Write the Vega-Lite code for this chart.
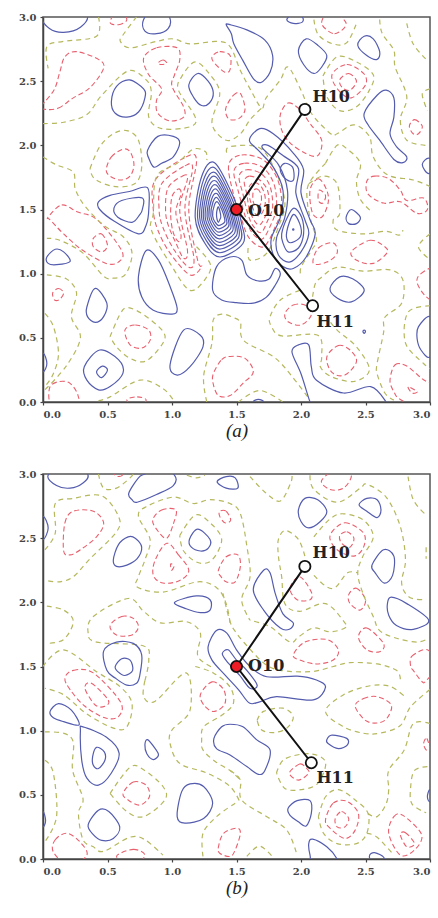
{"$schema":"https://vega.github.io/schema/vega-lite/v6.json","background":"white","padding":{"left":17,"top":11,"right":2,"bottom":2},"spacing":27,
"config":{"view":{"stroke":"#555","strokeWidth":1.5},"axis":{"grid":false,"domainColor":"#444","domainWidth":1.5,"tickColor":"#444","tickSize":3,"tickWidth":1.2,"labelFont":"DejaVu Serif","labelFontWeight":"bold","labelFontSize":10,"labelColor":"#444","labelPadding":4,"tickCount":7,"format":".1f"}},
"datasets":{
"a_b":[
{"c":1,"x":0,"y":3},{"c":1,"x":0.05,"y":2.91},{"c":1,"x":0.16,"y":2.88},{"c":1,"x":0.29,"y":2.92},{"c":1,"x":0.34,"y":3.02},{"c":1,"x":0.17,"y":3.12},
{"c":2,"x":0.78,"y":2.98},{"c":2,"x":0.79,"y":2.89},{"c":2,"x":0.88,"y":2.87},{"c":2,"x":0.97,"y":2.91},{"c":2,"x":0.98,"y":3},{"c":2,"x":0.88,"y":3.1},
{"c":3,"x":0.53,"y":2.34},{"c":3,"x":0.57,"y":2.46},{"c":3,"x":0.67,"y":2.51},{"c":3,"x":0.78,"y":2.44},{"c":3,"x":0.79,"y":2.37},{"c":3,"x":0.74,"y":2.26},{"c":3,"x":0.65,"y":2.22},{"c":3,"x":0.56,"y":2.25},
{"c":4,"x":1.13,"y":2.47},{"c":4,"x":1.2,"y":2.56},{"c":4,"x":1.28,"y":2.5},{"c":4,"x":1.32,"y":2.41},{"c":4,"x":1.29,"y":2.33},{"c":4,"x":1.23,"y":2.31},{"c":4,"x":1.17,"y":2.37},
{"c":5,"x":0.81,"y":1.96},{"c":5,"x":0.89,"y":2.07},{"c":5,"x":1.01,"y":2.07},{"c":5,"x":1.06,"y":2.02},{"c":5,"x":1.01,"y":1.91},{"c":5,"x":0.92,"y":1.86},{"c":5,"x":0.86,"y":1.83},{"c":5,"x":0.82,"y":1.9},
{"c":6,"x":0.44,"y":1.5},{"c":6,"x":0.55,"y":1.41},{"c":6,"x":0.74,"y":1.31},{"c":6,"x":0.8,"y":1.38},{"c":6,"x":0.82,"y":1.5},{"c":6,"x":0.81,"y":1.67},{"c":6,"x":0.67,"y":1.64},{"c":6,"x":0.52,"y":1.61},{"c":6,"x":0.43,"y":1.56},
{"c":7,"x":0.55,"y":1.51},{"c":7,"x":0.61,"y":1.57},{"c":7,"x":0.77,"y":1.59},{"c":7,"x":0.77,"y":1.5},{"c":7,"x":0.75,"y":1.46},{"c":7,"x":0.69,"y":1.4},{"c":7,"x":0.58,"y":1.44},
{"c":8,"x":1.33,"y":1.865},{"c":8,"x":1.475,"y":1.6},{"c":8,"x":1.54,"y":1.39},{"c":8,"x":1.55,"y":1.235},{"c":8,"x":1.372,"y":1.13},{"c":8,"x":1.256,"y":1.235},{"c":8,"x":1.18,"y":1.437},{"c":8,"x":1.23,"y":1.757},
{"c":9,"x":1.333,"y":1.824},{"c":9,"x":1.464,"y":1.586},{"c":9,"x":1.522,"y":1.397},{"c":9,"x":1.531,"y":1.257},{"c":9,"x":1.371,"y":1.163},{"c":9,"x":1.266,"y":1.257},{"c":9,"x":1.198,"y":1.439},{"c":9,"x":1.243,"y":1.727},
{"c":10,"x":1.336,"y":1.787},{"c":10,"x":1.453,"y":1.573},{"c":10,"x":1.506,"y":1.403},{"c":10,"x":1.514,"y":1.277},{"c":10,"x":1.37,"y":1.192},{"c":10,"x":1.276,"y":1.277},{"c":10,"x":1.214,"y":1.441},{"c":10,"x":1.255,"y":1.7},
{"c":11,"x":1.338,"y":1.755},{"c":11,"x":1.444,"y":1.561},{"c":11,"x":1.491,"y":1.408},{"c":11,"x":1.499,"y":1.295},{"c":11,"x":1.369,"y":1.218},{"c":11,"x":1.284,"y":1.295},{"c":11,"x":1.229,"y":1.442},{"c":11,"x":1.265,"y":1.676},
{"c":12,"x":1.34,"y":1.722},{"c":12,"x":1.435,"y":1.55},{"c":12,"x":1.477,"y":1.413},{"c":12,"x":1.484,"y":1.313},{"c":12,"x":1.368,"y":1.244},{"c":12,"x":1.292,"y":1.313},{"c":12,"x":1.243,"y":1.444},{"c":12,"x":1.275,"y":1.652},
{"c":13,"x":1.343,"y":1.69},{"c":13,"x":1.426,"y":1.539},{"c":13,"x":1.463,"y":1.419},{"c":13,"x":1.468,"y":1.33},{"c":13,"x":1.367,"y":1.271},{"c":13,"x":1.301,"y":1.33},{"c":13,"x":1.257,"y":1.446},{"c":13,"x":1.286,"y":1.628},
{"c":14,"x":1.345,"y":1.657},{"c":14,"x":1.416,"y":1.527},{"c":14,"x":1.448,"y":1.424},{"c":14,"x":1.453,"y":1.348},{"c":14,"x":1.366,"y":1.297},{"c":14,"x":1.309,"y":1.348},{"c":14,"x":1.272,"y":1.447},{"c":14,"x":1.296,"y":1.604},
{"c":15,"x":1.348,"y":1.624},{"c":15,"x":1.407,"y":1.516},{"c":15,"x":1.434,"y":1.43},{"c":15,"x":1.438,"y":1.366},{"c":15,"x":1.365,"y":1.323},{"c":15,"x":1.317,"y":1.366},{"c":15,"x":1.286,"y":1.449},{"c":15,"x":1.307,"y":1.58},
{"c":16,"x":1.35,"y":1.592},{"c":16,"x":1.398,"y":1.504},{"c":16,"x":1.419,"y":1.435},{"c":16,"x":1.423,"y":1.384},{"c":16,"x":1.364,"y":1.349},{"c":16,"x":1.326,"y":1.384},{"c":16,"x":1.301,"y":1.45},{"c":16,"x":1.317,"y":1.556},
{"c":17,"x":1.353,"y":1.559},{"c":17,"x":1.389,"y":1.493},{"c":17,"x":1.405,"y":1.44},{"c":17,"x":1.408,"y":1.402},{"c":17,"x":1.363,"y":1.375},{"c":17,"x":1.334,"y":1.402},{"c":17,"x":1.315,"y":1.452},{"c":17,"x":1.328,"y":1.532},
{"c":18,"x":1.36,"y":1.52},{"c":18,"x":1.375,"y":1.47},{"c":18,"x":1.378,"y":1.44},{"c":18,"x":1.37,"y":1.42},{"c":18,"x":1.36,"y":1.4},{"c":18,"x":1.35,"y":1.42},{"c":18,"x":1.345,"y":1.46},{"c":18,"x":1.35,"y":1.5},
{"c":20,"x":1.42,"y":2.94},{"c":20,"x":1.45,"y":2.94},{"c":20,"x":1.58,"y":2.9},{"c":20,"x":1.72,"y":2.82},{"c":20,"x":1.78,"y":2.7},{"c":20,"x":1.76,"y":2.57},{"c":20,"x":1.69,"y":2.49},{"c":20,"x":1.63,"y":2.52},{"c":20,"x":1.55,"y":2.66},{"c":20,"x":1.48,"y":2.79},{"c":20,"x":1.46,"y":2.87},
{"c":21,"x":1.98,"y":2.74},{"c":21,"x":2.04,"y":2.83},{"c":21,"x":2.13,"y":2.78},{"c":21,"x":2.2,"y":2.7},{"c":21,"x":2.16,"y":2.61},{"c":21,"x":2.1,"y":2.56},{"c":21,"x":2.02,"y":2.63},
{"c":22,"x":1.89,"y":2.98},{"c":22,"x":1.94,"y":2.95},{"c":22,"x":2.01,"y":2.96},{"c":22,"x":2.01,"y":3},{"c":22,"x":1.95,"y":3.03},
{"c":23,"x":2.44,"y":2.78},{"c":23,"x":2.49,"y":2.85},{"c":23,"x":2.56,"y":2.83},{"c":23,"x":2.61,"y":2.73},{"c":23,"x":2.59,"y":2.67},{"c":23,"x":2.51,"y":2.7},
{"c":24,"x":2.49,"y":2.25},{"c":24,"x":2.59,"y":2.39},{"c":24,"x":2.66,"y":2.43},{"c":24,"x":2.72,"y":2.37},{"c":24,"x":2.72,"y":2.22},{"c":24,"x":2.69,"y":2.09},{"c":24,"x":2.74,"y":1.99},{"c":24,"x":2.82,"y":1.91},{"c":24,"x":2.79,"y":1.865},{"c":24,"x":2.72,"y":1.89},{"c":24,"x":2.61,"y":2.04},{"c":24,"x":2.52,"y":2.16},
{"c":25,"x":2.94,"y":1.85},{"c":25,"x":2.99,"y":1.9},{"c":25,"x":3.05,"y":1.85},{"c":25,"x":2.99,"y":1.78},
{"c":26,"x":2.35,"y":1.44},{"c":26,"x":2.39,"y":1.5},{"c":26,"x":2.46,"y":1.44},{"c":26,"x":2.43,"y":1.39},{"c":26,"x":2.37,"y":1.39},
{"c":27,"x":1.6,"y":2.04},{"c":27,"x":1.68,"y":2.13},{"c":27,"x":1.785,"y":2.09},{"c":27,"x":1.94,"y":1.94},{"c":27,"x":2.02,"y":1.81},{"c":27,"x":2,"y":1.63},{"c":27,"x":2.07,"y":1.42},{"c":27,"x":2.11,"y":1.31},{"c":27,"x":2.04,"y":1.13},{"c":27,"x":1.94,"y":1.04},{"c":27,"x":1.86,"y":1.055},{"c":27,"x":1.785,"y":1.145},{"c":27,"x":1.77,"y":1.275},{"c":27,"x":1.84,"y":1.44},{"c":27,"x":1.86,"y":1.65},{"c":27,"x":1.785,"y":1.83},{"c":27,"x":1.67,"y":1.96},
{"c":28,"x":1.7,"y":1.98},{"c":28,"x":1.745,"y":2},{"c":28,"x":1.86,"y":1.92},{"c":28,"x":1.98,"y":1.82},{"c":28,"x":1.96,"y":1.63},{"c":28,"x":2.03,"y":1.42},{"c":28,"x":2.06,"y":1.31},{"c":28,"x":2,"y":1.17},{"c":28,"x":1.91,"y":1.09},{"c":28,"x":1.825,"y":1.145},{"c":28,"x":1.81,"y":1.275},{"c":28,"x":1.875,"y":1.44},{"c":28,"x":1.895,"y":1.65},{"c":28,"x":1.825,"y":1.85},
{"c":29,"x":1.85,"y":1.31},{"c":29,"x":1.89,"y":1.43},{"c":29,"x":1.945,"y":1.51},{"c":29,"x":2.005,"y":1.44},{"c":29,"x":2.02,"y":1.31},{"c":29,"x":1.98,"y":1.2},{"c":29,"x":1.9,"y":1.17},{"c":29,"x":1.86,"y":1.24},
{"c":30,"x":1.89,"y":1.33},{"c":30,"x":1.94,"y":1.46},{"c":30,"x":1.99,"y":1.39},{"c":30,"x":2,"y":1.3},{"c":30,"x":1.95,"y":1.25},{"c":30,"x":1.9,"y":1.25},
{"c":31,"x":1.94,"y":1.35},{"c":31,"x":1.945,"y":1.345},{"c":31,"x":1.94,"y":1.34},{"c":31,"x":1.935,"y":1.345},
{"c":32,"x":1.84,"y":1.82},{"c":32,"x":1.875,"y":1.86},{"c":32,"x":1.935,"y":1.83},{"c":32,"x":1.945,"y":1.74},{"c":32,"x":1.915,"y":1.72},{"c":32,"x":1.86,"y":1.76},
{"c":33,"x":1.346,"y":1.055},{"c":33,"x":1.315,"y":0.873},{"c":33,"x":1.385,"y":0.795},{"c":33,"x":1.5,"y":0.774},{"c":33,"x":1.63,"y":0.77},{"c":33,"x":1.73,"y":0.815},{"c":33,"x":1.8,"y":0.91},{"c":33,"x":1.84,"y":1},{"c":33,"x":1.8,"y":1.04},{"c":33,"x":1.75,"y":0.956},{"c":33,"x":1.66,"y":0.945},{"c":33,"x":1.58,"y":0.99},{"c":33,"x":1.54,"y":1.106},{"c":33,"x":1.45,"y":1.13},
{"c":34,"x":1.93,"y":0.39},{"c":34,"x":1.98,"y":0.445},{"c":34,"x":2.06,"y":0.445},{"c":34,"x":2.08,"y":0.275},{"c":34,"x":2.12,"y":0.17},{"c":34,"x":2.33,"y":0.07},{"c":34,"x":2.54,"y":0.12},{"c":34,"x":2.66,"y":0},{"c":34,"x":2.66,"y":-0.05},{"c":34,"x":2.1,"y":-0.05},{"c":34,"x":2.07,"y":0},{"c":34,"x":2,"y":0.22},
{"c":35,"x":1.63,"y":0},{"c":35,"x":1.67,"y":0.02},{"c":35,"x":1.71,"y":0},{"c":35,"x":1.67,"y":-0.05},
{"c":36,"x":2.48,"y":0.55},{"c":36,"x":2.49,"y":0.56},{"c":36,"x":2.5,"y":0.55},{"c":36,"x":2.49,"y":0.535},
{"c":37,"x":2.225,"y":0.885},{"c":37,"x":2.3,"y":0.975},{"c":37,"x":2.4,"y":0.96},{"c":37,"x":2.49,"y":0.87},{"c":37,"x":2.39,"y":0.78},{"c":37,"x":2.28,"y":0.81},
{"c":38,"x":3,"y":0.665},{"c":38,"x":2.91,"y":0.585},{"c":38,"x":2.9,"y":0.495},{"c":38,"x":2.93,"y":0.405},{"c":38,"x":3,"y":0.35},{"c":38,"x":3.05,"y":0.5},
{"c":39,"x":0.03,"y":1.13},{"c":39,"x":0.095,"y":1.19},{"c":39,"x":0.16,"y":1.17},{"c":39,"x":0.21,"y":1.095},{"c":39,"x":0.105,"y":1.07},{"c":39,"x":0.04,"y":1.08},
{"c":40,"x":0.74,"y":0.98},{"c":40,"x":0.8,"y":1.18},{"c":40,"x":0.895,"y":1.105},{"c":40,"x":0.985,"y":0.9},{"c":40,"x":1.04,"y":0.73},{"c":40,"x":1,"y":0.685},{"c":40,"x":0.855,"y":0.715},{"c":40,"x":0.765,"y":0.82},
{"c":41,"x":0.34,"y":0.74},{"c":41,"x":0.405,"y":0.885},{"c":41,"x":0.495,"y":0.77},{"c":41,"x":0.47,"y":0.665},{"c":41,"x":0.405,"y":0.62},{"c":41,"x":0.345,"y":0.665},
{"c":42,"x":0.985,"y":0.29},{"c":42,"x":1.09,"y":0.56},{"c":42,"x":1.22,"y":0.52},{"c":42,"x":1.24,"y":0.43},{"c":42,"x":1.14,"y":0.275},{"c":42,"x":1.04,"y":0.21},
{"c":43,"x":0.32,"y":0.275},{"c":43,"x":0.44,"y":0.405},{"c":43,"x":0.585,"y":0.33},{"c":43,"x":0.62,"y":0.225},{"c":43,"x":0.52,"y":0.12},{"c":43,"x":0.43,"y":0.095},{"c":43,"x":0.34,"y":0.17},
{"c":44,"x":0.415,"y":0.235},{"c":44,"x":0.46,"y":0.28},{"c":44,"x":0.5,"y":0.25},{"c":44,"x":0.455,"y":0.19},
{"c":45,"x":0,"y":0.38},{"c":45,"x":0.03,"y":0.3},{"c":45,"x":0,"y":0.235},{"c":45,"x":-0.05,"y":0.3}
],
"a_r":[
{"c":1,"x":0.02,"y":2.28},{"c":1,"x":0.12,"y":2.29},{"c":1,"x":0.235,"y":2.37},{"c":1,"x":0.365,"y":2.45},{"c":1,"x":0.47,"y":2.6},{"c":1,"x":0.43,"y":2.67},{"c":1,"x":0.26,"y":2.73},{"c":1,"x":0.17,"y":2.69},{"c":1,"x":0.13,"y":2.57},{"c":1,"x":0.09,"y":2.44},{"c":1,"x":0.015,"y":2.34},{"c":1,"x":-0.02,"y":2.3},
{"c":2,"x":0.52,"y":2.96},{"c":2,"x":0.585,"y":2.94},{"c":2,"x":0.65,"y":2.98},{"c":2,"x":0.585,"y":3.06},
{"c":3,"x":0.78,"y":2.68},{"c":3,"x":0.88,"y":2.76},{"c":3,"x":1.04,"y":2.76},{"c":3,"x":1.06,"y":2.665},{"c":3,"x":1.02,"y":2.55},{"c":3,"x":1,"y":2.46},{"c":3,"x":1.09,"y":2.3},{"c":3,"x":1.09,"y":2.22},{"c":3,"x":0.985,"y":2.19},{"c":3,"x":0.89,"y":2.25},{"c":3,"x":0.88,"y":2.35},{"c":3,"x":0.92,"y":2.44},{"c":3,"x":0.82,"y":2.55},
{"c":4,"x":0.89,"y":2.64},{"c":4,"x":0.93,"y":2.665},{"c":4,"x":0.96,"y":2.64},{"c":4,"x":0.92,"y":2.63},
{"c":5,"x":1.31,"y":2.69},{"c":5,"x":1.37,"y":2.73},{"c":5,"x":1.45,"y":2.7},{"c":5,"x":1.45,"y":2.59},{"c":5,"x":1.41,"y":2.57},{"c":5,"x":1.33,"y":2.64},
{"c":6,"x":1.42,"y":2.3},{"c":6,"x":1.475,"y":2.39},{"c":6,"x":1.53,"y":2.405},{"c":6,"x":1.566,"y":2.28},{"c":6,"x":1.52,"y":2.21},{"c":6,"x":1.45,"y":2.2},{"c":6,"x":1.42,"y":2.24},
{"c":7,"x":0.49,"y":1.81},{"c":7,"x":0.53,"y":1.91},{"c":7,"x":0.62,"y":1.97},{"c":7,"x":0.675,"y":1.95},{"c":7,"x":0.705,"y":1.85},{"c":7,"x":0.675,"y":1.76},{"c":7,"x":0.6,"y":1.73},{"c":7,"x":0.52,"y":1.76},
{"c":8,"x":0.04,"y":1.44},{"c":8,"x":0.145,"y":1.535},{"c":8,"x":0.27,"y":1.48},{"c":8,"x":0.42,"y":1.42},{"c":8,"x":0.61,"y":1.18},{"c":8,"x":0.585,"y":1.09},{"c":8,"x":0.49,"y":1.08},{"c":8,"x":0.31,"y":1.18},{"c":8,"x":0.16,"y":1.31},{"c":8,"x":0.055,"y":1.42},
{"c":9,"x":0.39,"y":1.275},{"c":9,"x":0.455,"y":1.31},{"c":9,"x":0.5,"y":1.22},{"c":9,"x":0.455,"y":1.17},{"c":9,"x":0.39,"y":1.21},
{"c":10,"x":0.075,"y":0.85},{"c":10,"x":0.12,"y":0.885},{"c":10,"x":0.16,"y":0.85},{"c":10,"x":0.13,"y":0.8},{"c":10,"x":0.09,"y":0.795},
{"c":11,"x":0.635,"y":0.56},{"c":11,"x":0.715,"y":0.6},{"c":11,"x":0.82,"y":0.56},{"c":11,"x":0.83,"y":0.48},{"c":11,"x":0.765,"y":0.42},{"c":11,"x":0.675,"y":0.445},
{"c":12,"x":0.055,"y":0.12},{"c":12,"x":0.13,"y":0.16},{"c":12,"x":0.21,"y":0.145},{"c":12,"x":0.27,"y":0.055},{"c":12,"x":0.27,"y":-0.05},{"c":12,"x":0.1,"y":-0.1},{"c":12,"x":0.05,"y":0},
{"c":13,"x":0.65,"y":0.015},{"c":13,"x":0.73,"y":0.04},{"c":13,"x":0.8,"y":0.015},{"c":13,"x":0.73,"y":-0.05},
{"c":14,"x":1.32,"y":0.22},{"c":14,"x":1.385,"y":0.33},{"c":14,"x":1.45,"y":0.355},{"c":14,"x":1.566,"y":0.34},{"c":14,"x":1.63,"y":0.235},{"c":14,"x":1.55,"y":0.145},{"c":14,"x":1.45,"y":0.05},{"c":14,"x":1.36,"y":0.05},{"c":14,"x":1.32,"y":0.14},
{"c":15,"x":1.84,"y":2.24},{"c":15,"x":1.9,"y":2.33},{"c":15,"x":1.99,"y":2.28},{"c":15,"x":2.07,"y":2.17},{"c":15,"x":2.16,"y":2.04},{"c":15,"x":2.13,"y":1.92},{"c":15,"x":2.03,"y":1.94},{"c":15,"x":1.915,"y":2.02},{"c":15,"x":1.85,"y":2.12},
{"c":16,"x":2.16,"y":2.95},{"c":16,"x":2.26,"y":2.87},{"c":16,"x":2.35,"y":2.95},{"c":16,"x":2.23,"y":3.05},
{"c":17,"x":2.24,"y":2.55},{"c":17,"x":2.355,"y":2.63},{"c":17,"x":2.485,"y":2.56},{"c":17,"x":2.5,"y":2.47},{"c":17,"x":2.39,"y":2.37},{"c":17,"x":2.29,"y":2.43},
{"c":18,"x":2.3,"y":2.51},{"c":18,"x":2.37,"y":2.56},{"c":18,"x":2.43,"y":2.5},{"c":18,"x":2.38,"y":2.43},{"c":18,"x":2.32,"y":2.45},
{"c":19,"x":2.84,"y":2.15},{"c":19,"x":2.88,"y":2.2},{"c":19,"x":2.94,"y":2.15},{"c":19,"x":2.91,"y":2.09},{"c":19,"x":2.87,"y":2.09},
{"c":20,"x":2.51,"y":1.72},{"c":20,"x":2.57,"y":1.76},{"c":20,"x":2.68,"y":1.74},{"c":20,"x":2.77,"y":1.65},{"c":20,"x":2.82,"y":1.57},{"c":20,"x":2.95,"y":1.59},{"c":20,"x":2.98,"y":1.5},{"c":20,"x":2.9,"y":1.47},{"c":20,"x":2.77,"y":1.56},{"c":20,"x":2.64,"y":1.55},{"c":20,"x":2.52,"y":1.62},
{"c":21,"x":2.07,"y":1.65},{"c":21,"x":2.135,"y":1.74},{"c":21,"x":2.2,"y":1.65},{"c":21,"x":2.21,"y":1.55},{"c":21,"x":2.16,"y":1.44},{"c":21,"x":2.09,"y":1.47},
{"c":22,"x":2.14,"y":1.65},{"c":22,"x":2.19,"y":1.61},{"c":22,"x":2.17,"y":1.55},{"c":22,"x":2.135,"y":1.57},
{"c":23,"x":2.095,"y":1.08},{"c":23,"x":2.135,"y":1.2},{"c":23,"x":2.25,"y":1.24},{"c":23,"x":2.28,"y":1.16},{"c":23,"x":2.2,"y":1.09},
{"c":24,"x":2.39,"y":1.17},{"c":24,"x":2.535,"y":1.26},{"c":24,"x":2.65,"y":1.21},{"c":24,"x":2.665,"y":1.16},{"c":24,"x":2.56,"y":1.08},{"c":24,"x":2.44,"y":1.1},
{"c":25,"x":2.9,"y":0.93},{"c":25,"x":2.93,"y":1},{"c":25,"x":3.05,"y":1.04},{"c":25,"x":3.05,"y":0.8},{"c":25,"x":2.97,"y":0.82},
{"c":26,"x":1.875,"y":0.69},{"c":26,"x":1.94,"y":0.755},{"c":26,"x":2.03,"y":0.755},{"c":26,"x":2.08,"y":0.68},{"c":26,"x":2,"y":0.6},{"c":26,"x":1.9,"y":0.625},
{"c":27,"x":2.2,"y":0.35},{"c":27,"x":2.29,"y":0.44},{"c":27,"x":2.38,"y":0.405},{"c":27,"x":2.43,"y":0.315},{"c":27,"x":2.34,"y":0.21},{"c":27,"x":2.24,"y":0.23},
{"c":28,"x":2.69,"y":0.17},{"c":28,"x":2.73,"y":0.29},{"c":28,"x":2.82,"y":0.28},{"c":28,"x":2.94,"y":0.18},{"c":28,"x":3.05,"y":0.1},{"c":28,"x":2.95,"y":-0.05},{"c":28,"x":2.77,"y":0.02},{"c":28,"x":2.72,"y":0.08},
{"c":29,"x":2.83,"y":0.12},{"c":29,"x":2.9,"y":0.08},{"c":29,"x":2.86,"y":0.07},
{"c":30,"x":0.87,"y":1.73},{"c":30,"x":1.11,"y":1.91},{"c":30,"x":1.19,"y":1.88},{"c":30,"x":1.13,"y":1.5},{"c":30,"x":1.2,"y":1.1},{"c":30,"x":1.23,"y":1.055},{"c":30,"x":1.14,"y":0.99},{"c":30,"x":0.985,"y":1.16},{"c":30,"x":0.89,"y":1.34},{"c":30,"x":0.855,"y":1.5},
{"c":31,"x":0.92,"y":1.7},{"c":31,"x":1.1,"y":1.84},{"c":31,"x":1.16,"y":1.82},{"c":31,"x":1.1,"y":1.5},{"c":31,"x":1.17,"y":1.12},{"c":31,"x":1.13,"y":1.05},{"c":31,"x":1.02,"y":1.18},{"c":31,"x":0.93,"y":1.36},{"c":31,"x":0.9,"y":1.5},
{"c":32,"x":0.97,"y":1.67},{"c":32,"x":1.08,"y":1.76},{"c":32,"x":1.12,"y":1.74},{"c":32,"x":1.06,"y":1.5},{"c":32,"x":1.12,"y":1.18},{"c":32,"x":1.09,"y":1.12},{"c":32,"x":1.03,"y":1.24},{"c":32,"x":0.97,"y":1.38},{"c":32,"x":0.95,"y":1.5},
{"c":33,"x":1,"y":1.6},{"c":33,"x":1.05,"y":1.66},{"c":33,"x":1.07,"y":1.62},{"c":33,"x":1.03,"y":1.48},{"c":33,"x":1.07,"y":1.3},{"c":33,"x":1.05,"y":1.25},{"c":33,"x":1.01,"y":1.32},{"c":33,"x":0.99,"y":1.45},
{"c":34,"x":1.44,"y":1.85},{"c":34,"x":1.54,"y":1.925},{"c":34,"x":1.71,"y":1.885},{"c":34,"x":1.82,"y":1.73},{"c":34,"x":1.85,"y":1.52},{"c":34,"x":1.8,"y":1.365},{"c":34,"x":1.71,"y":1.21},{"c":34,"x":1.6,"y":1.275},{"c":34,"x":1.54,"y":1.42},{"c":34,"x":1.475,"y":1.625},
{"c":35,"x":1.48,"y":1.8},{"c":35,"x":1.56,"y":1.86},{"c":35,"x":1.7,"y":1.83},{"c":35,"x":1.79,"y":1.7},{"c":35,"x":1.81,"y":1.52},{"c":35,"x":1.77,"y":1.39},{"c":35,"x":1.7,"y":1.27},{"c":35,"x":1.62,"y":1.32},{"c":35,"x":1.57,"y":1.44},{"c":35,"x":1.52,"y":1.62},
{"c":36,"x":1.52,"y":1.76},{"c":36,"x":1.58,"y":1.81},{"c":36,"x":1.69,"y":1.78},{"c":36,"x":1.76,"y":1.68},{"c":36,"x":1.78,"y":1.52},{"c":36,"x":1.74,"y":1.41},{"c":36,"x":1.69,"y":1.32},{"c":36,"x":1.63,"y":1.37},{"c":36,"x":1.59,"y":1.46},{"c":36,"x":1.55,"y":1.62},
{"c":37,"x":1.56,"y":1.72},{"c":37,"x":1.6,"y":1.76},{"c":37,"x":1.68,"y":1.73},{"c":37,"x":1.74,"y":1.65},{"c":37,"x":1.75,"y":1.53},{"c":37,"x":1.72,"y":1.44},{"c":37,"x":1.68,"y":1.38},{"c":37,"x":1.64,"y":1.41},{"c":37,"x":1.6,"y":1.5},{"c":37,"x":1.58,"y":1.62},
{"c":38,"x":1.6,"y":1.68},{"c":38,"x":1.64,"y":1.71},{"c":38,"x":1.69,"y":1.68},{"c":38,"x":1.72,"y":1.61},{"c":38,"x":1.72,"y":1.53},{"c":38,"x":1.69,"y":1.46},{"c":38,"x":1.65,"y":1.46},{"c":38,"x":1.62,"y":1.53},{"c":38,"x":1.6,"y":1.6},
{"c":39,"x":1.63,"y":1.64},{"c":39,"x":1.66,"y":1.66},{"c":39,"x":1.69,"y":1.62},{"c":39,"x":1.69,"y":1.55},{"c":39,"x":1.66,"y":1.52},{"c":39,"x":1.63,"y":1.56}
],
"a_g":[
{"c":1,"x":0.43,"y":3},{"c":1,"x":0.415,"y":2.85},{"c":1,"x":0.16,"y":2.81},{"c":1,"x":0.03,"y":2.77},{"c":1,"x":0.04,"y":2.6},
{"c":2,"x":0,"y":2.17},{"c":2,"x":0.16,"y":2.18},{"c":2,"x":0.34,"y":2.24},{"c":2,"x":0.455,"y":2.39},{"c":2,"x":0.66,"y":2.58},{"c":2,"x":0.8,"y":2.51},{"c":2,"x":0.84,"y":2.41},{"c":2,"x":0.82,"y":2.22},{"c":2,"x":0.92,"y":2.13},{"c":2,"x":1.14,"y":2.145},{"c":2,"x":1.18,"y":2.22},{"c":2,"x":1.05,"y":2.43},{"c":2,"x":1.075,"y":2.535},{"c":2,"x":1.18,"y":2.65},{"c":2,"x":1.295,"y":2.55},{"c":2,"x":1.37,"y":2.405},{"c":2,"x":1.31,"y":2.17},{"c":2,"x":1.42,"y":2.04},{"c":2,"x":1.53,"y":2.09},{"c":2,"x":1.605,"y":2.2},{"c":2,"x":1.695,"y":2.29},
{"c":3,"x":0.725,"y":3},{"c":3,"x":0.62,"y":2.86},{"c":3,"x":0.6,"y":2.81},{"c":3,"x":0.675,"y":2.76},{"c":3,"x":0.88,"y":2.81},{"c":3,"x":1.01,"y":2.83},{"c":3,"x":1.14,"y":2.79},{"c":3,"x":1.35,"y":2.81},{"c":3,"x":1.45,"y":2.77},{"c":3,"x":1.527,"y":2.59},{"c":3,"x":1.605,"y":2.44},{"c":3,"x":1.695,"y":2.29},{"c":3,"x":1.73,"y":2.37},{"c":3,"x":1.84,"y":2.51},{"c":3,"x":1.9,"y":2.61},{"c":3,"x":2,"y":2.43},{"c":3,"x":2.08,"y":2.25},{"c":3,"x":2.23,"y":2.09},{"c":3,"x":2.28,"y":2.09},{"c":3,"x":2.41,"y":2.16},{"c":3,"x":2.53,"y":2.07},{"c":3,"x":2.56,"y":1.91},{"c":3,"x":2.67,"y":1.77},{"c":3,"x":2.87,"y":1.73},{"c":3,"x":3,"y":1.68},
{"c":4,"x":2.1,"y":2.98},{"c":4,"x":2.135,"y":2.86},{"c":4,"x":2.25,"y":2.79},{"c":4,"x":2.355,"y":2.8},{"c":4,"x":2.43,"y":2.95},
{"c":5,"x":2.17,"y":2.54},{"c":5,"x":2.28,"y":2.69},{"c":5,"x":2.43,"y":2.65},{"c":5,"x":2.56,"y":2.55},{"c":5,"x":2.53,"y":2.43},{"c":5,"x":2.43,"y":2.3},{"c":5,"x":2.3,"y":2.27},{"c":5,"x":2.2,"y":2.38},{"c":5,"x":2.17,"y":2.54},
{"c":6,"x":2.61,"y":2.98},{"c":6,"x":2.63,"y":2.87},{"c":6,"x":2.72,"y":2.74},{"c":6,"x":2.73,"y":2.61},{"c":6,"x":2.82,"y":2.38},{"c":6,"x":2.77,"y":2.2},{"c":6,"x":2.82,"y":2.04},{"c":6,"x":2.97,"y":2},
{"c":7,"x":2.82,"y":2.95},{"c":7,"x":2.87,"y":2.79},{"c":7,"x":2.98,"y":2.66},
{"c":8,"x":3,"y":2.44},{"c":8,"x":2.94,"y":2.4},{"c":8,"x":2.98,"y":2.27},
{"c":9,"x":2.19,"y":1.86},{"c":9,"x":2.28,"y":2},{"c":9,"x":2.36,"y":1.97},{"c":9,"x":2.46,"y":1.86},{"c":9,"x":2.43,"y":1.72},{"c":9,"x":2.46,"y":1.58},{"c":9,"x":2.55,"y":1.48},
{"c":10,"x":2.19,"y":1.86},{"c":10,"x":2.06,"y":1.7},{"c":10,"x":2.05,"y":1.55},{"c":10,"x":2.08,"y":1.4},{"c":10,"x":2.12,"y":1.26},{"c":10,"x":2.08,"y":1.18},{"c":10,"x":2,"y":1.05},{"c":10,"x":2,"y":0.98},
{"c":12,"x":2.06,"y":1.7},{"c":12,"x":2.17,"y":1.76},{"c":12,"x":2.28,"y":1.7},{"c":12,"x":2.3,"y":1.47},{"c":12,"x":2.25,"y":1.42},{"c":12,"x":2.28,"y":1.34},{"c":12,"x":2.48,"y":1.31},{"c":12,"x":2.66,"y":1.33},{"c":12,"x":2.76,"y":1.3},{"c":12,"x":2.79,"y":1.34},
{"c":13,"x":2.09,"y":0.82},{"c":13,"x":2.11,"y":0.92},{"c":13,"x":2.15,"y":0.965},{"c":13,"x":2.28,"y":1.05},{"c":13,"x":2.48,"y":1.02},{"c":13,"x":2.69,"y":1.03},{"c":13,"x":2.79,"y":0.95},{"c":13,"x":2.78,"y":0.77},{"c":13,"x":2.65,"y":0.66},{"c":13,"x":2.64,"y":0.54},{"c":13,"x":2.59,"y":0.3},{"c":13,"x":2.59,"y":0.22},{"c":13,"x":2.65,"y":0.07},{"c":13,"x":2.72,"y":0.015},
{"c":14,"x":3,"y":0.75},{"c":14,"x":2.83,"y":0.7},{"c":14,"x":2.81,"y":0.46},{"c":14,"x":2.95,"y":0.3},{"c":14,"x":3,"y":0.26},
{"c":15,"x":3,"y":1.31},{"c":15,"x":2.91,"y":1.21},{"c":15,"x":3,"y":1.11},
{"c":16,"x":1.99,"y":0.87},{"c":16,"x":1.84,"y":0.795},{"c":16,"x":1.76,"y":0.665},{"c":16,"x":1.77,"y":0.59},{"c":16,"x":1.85,"y":0.515},{"c":16,"x":2.13,"y":0.52},{"c":16,"x":2.16,"y":0.35},{"c":16,"x":2.15,"y":0.275},{"c":16,"x":2.23,"y":0.2},{"c":16,"x":2.41,"y":0.16},{"c":16,"x":2.53,"y":0.25},{"c":16,"x":2.43,"y":0.43},{"c":16,"x":2.28,"y":0.56},{"c":16,"x":2.2,"y":0.66},
{"c":18,"x":0.52,"y":0.51},{"c":18,"x":0.6,"y":0.69},{"c":18,"x":0.66,"y":0.735},{"c":18,"x":0.78,"y":0.68},{"c":18,"x":0.93,"y":0.55},{"c":18,"x":0.93,"y":0.46},{"c":18,"x":0.8,"y":0.32},{"c":18,"x":0.675,"y":0.34},{"c":18,"x":0.57,"y":0.43},{"c":18,"x":0.52,"y":0.51},
{"c":19,"x":0,"y":1.91},{"c":19,"x":0.1,"y":1.85},{"c":19,"x":0.235,"y":1.79},{"c":19,"x":0.25,"y":1.66},{"c":19,"x":0.33,"y":1.52},{"c":19,"x":0.48,"y":1.37},{"c":19,"x":0.62,"y":1.29},{"c":19,"x":0.69,"y":1.16},{"c":19,"x":0.64,"y":0.995},{"c":19,"x":0.545,"y":0.965},{"c":19,"x":0.47,"y":0.98},{"c":19,"x":0.31,"y":1.16},{"c":19,"x":0.13,"y":1.26},{"c":19,"x":0.03,"y":1.275},
{"c":20,"x":0.365,"y":1.82},{"c":20,"x":0.44,"y":1.99},{"c":20,"x":0.545,"y":2.09},{"c":20,"x":0.65,"y":2.115},{"c":20,"x":0.74,"y":2.04},{"c":20,"x":0.765,"y":1.83},{"c":20,"x":0.71,"y":1.7},{"c":20,"x":0.545,"y":1.68},{"c":20,"x":0.4,"y":1.74},{"c":20,"x":0.365,"y":1.82},
{"c":21,"x":0.03,"y":0.99},{"c":21,"x":0.18,"y":0.96},{"c":21,"x":0.26,"y":0.85},{"c":21,"x":0.22,"y":0.665},{"c":21,"x":0.29,"y":0.5},{"c":21,"x":0.18,"y":0.28},{"c":21,"x":0.015,"y":0.095},
{"c":22,"x":0.015,"y":0.69},{"c":22,"x":0.08,"y":0.59},{"c":22,"x":0.12,"y":0.38},{"c":22,"x":0.08,"y":0.22},{"c":22,"x":0.015,"y":0.12},
{"c":23,"x":0.43,"y":0.01},{"c":23,"x":0.52,"y":0.04},{"c":23,"x":0.75,"y":0.17},{"c":23,"x":0.93,"y":0.105},{"c":23,"x":1.02,"y":0},
{"c":24,"x":1.19,"y":1.21},{"c":24,"x":1.295,"y":1.08},{"c":24,"x":1.27,"y":0.975},{"c":24,"x":1.14,"y":0.87},{"c":24,"x":0.985,"y":1.08},{"c":24,"x":0.84,"y":1.34},{"c":24,"x":0.855,"y":1.47},{"c":24,"x":0.88,"y":1.755},{"c":24,"x":1.04,"y":1.86},{"c":24,"x":1.165,"y":1.97},{"c":24,"x":1.26,"y":1.95},{"c":24,"x":1.27,"y":1.885},
{"c":25,"x":1.59,"y":1.2},{"c":25,"x":1.605,"y":1.105},{"c":25,"x":1.735,"y":1.16},{"c":25,"x":1.825,"y":1.365},{"c":25,"x":1.875,"y":1.55},{"c":25,"x":1.81,"y":1.78},{"c":25,"x":1.68,"y":1.98},{"c":25,"x":1.45,"y":1.99},{"c":25,"x":1.425,"y":1.94},
{"c":26,"x":1.27,"y":0},{"c":26,"x":1.245,"y":0.2},{"c":26,"x":1.31,"y":0.46},{"c":26,"x":1.32,"y":0.64},{"c":26,"x":1.385,"y":0.685},{"c":26,"x":1.47,"y":0.66},{"c":26,"x":1.53,"y":0.62},{"c":26,"x":1.555,"y":0.48},{"c":26,"x":1.79,"y":0.35},{"c":26,"x":1.93,"y":0.2},{"c":26,"x":2.07,"y":0.015},
{"c":27,"x":1.515,"y":0},{"c":27,"x":1.68,"y":0.09},{"c":27,"x":1.86,"y":0}
],
"b_b":[
{"c":1,"x":0.04,"y":2.99},{"c":1,"x":0.105,"y":2.91},{"c":1,"x":0.21,"y":2.89},{"c":1,"x":0.31,"y":2.93},{"c":1,"x":0.345,"y":3},{"c":1,"x":0.2,"y":3.1},
{"c":2,"x":0.665,"y":2.85},{"c":2,"x":0.74,"y":2.97},{"c":2,"x":0.79,"y":3},{"c":2,"x":0.9,"y":3.05},{"c":2,"x":1.02,"y":2.99},{"c":2,"x":1.01,"y":2.91},{"c":2,"x":0.88,"y":2.84},{"c":2,"x":0.73,"y":2.78},{"c":2,"x":0.69,"y":2.8},
{"c":3,"x":1.35,"y":2.94},{"c":3,"x":1.42,"y":2.98},{"c":3,"x":1.49,"y":2.97},{"c":3,"x":1.51,"y":2.89},{"c":3,"x":1.42,"y":2.89},
{"c":4,"x":0,"y":2.67},{"c":4,"x":0.04,"y":2.58},{"c":4,"x":0,"y":2.49},{"c":4,"x":-0.05,"y":2.58},
{"c":5,"x":0.545,"y":2.33},{"c":5,"x":0.585,"y":2.45},{"c":5,"x":0.66,"y":2.51},{"c":5,"x":0.715,"y":2.5},{"c":5,"x":0.765,"y":2.43},{"c":5,"x":0.73,"y":2.34},{"c":5,"x":0.65,"y":2.29},{"c":5,"x":0.57,"y":2.28},
{"c":6,"x":1.135,"y":2.49},{"c":6,"x":1.2,"y":2.57},{"c":6,"x":1.295,"y":2.49},{"c":6,"x":1.28,"y":2.42},{"c":6,"x":1.22,"y":2.4},{"c":6,"x":1.15,"y":2.43},
{"c":7,"x":1.02,"y":2},{"c":7,"x":1.19,"y":2.05},{"c":7,"x":1.295,"y":2.02},{"c":7,"x":1.295,"y":1.94},{"c":7,"x":1.22,"y":1.92},{"c":7,"x":1.11,"y":1.95},
{"c":8,"x":0.47,"y":1.62},{"c":8,"x":0.57,"y":1.69},{"c":8,"x":0.7,"y":1.68},{"c":8,"x":0.765,"y":1.59},{"c":8,"x":0.75,"y":1.43},{"c":8,"x":0.725,"y":1.37},{"c":8,"x":0.65,"y":1.355},{"c":8,"x":0.56,"y":1.41},{"c":8,"x":0.495,"y":1.47},
{"c":9,"x":0.56,"y":1.5},{"c":9,"x":0.61,"y":1.56},{"c":9,"x":0.675,"y":1.55},{"c":9,"x":0.695,"y":1.47},{"c":9,"x":0.635,"y":1.43},{"c":9,"x":0.58,"y":1.46},
{"c":10,"x":1.98,"y":2.72},{"c":10,"x":2.03,"y":2.81},{"c":10,"x":2.13,"y":2.8},{"c":10,"x":2.2,"y":2.71},{"c":10,"x":2.15,"y":2.63},{"c":10,"x":2.06,"y":2.58},{"c":10,"x":2,"y":2.63},
{"c":11,"x":2.45,"y":2.76},{"c":11,"x":2.51,"y":2.81},{"c":11,"x":2.59,"y":2.8},{"c":11,"x":2.62,"y":2.72},{"c":11,"x":2.59,"y":2.66},{"c":11,"x":2.51,"y":2.71},
{"c":12,"x":2.55,"y":2.29},{"c":12,"x":2.64,"y":2.41},{"c":12,"x":2.72,"y":2.36},{"c":12,"x":2.71,"y":2.21},{"c":12,"x":2.645,"y":2.15},{"c":12,"x":2.575,"y":2.23},
{"c":13,"x":2.67,"y":1.99},{"c":13,"x":2.7,"y":2.04},{"c":13,"x":2.82,"y":1.99},{"c":13,"x":2.99,"y":1.86},{"c":13,"x":2.87,"y":1.79},{"c":13,"x":2.74,"y":1.82},{"c":13,"x":2.68,"y":1.9},
{"c":14,"x":1.63,"y":2.1},{"c":14,"x":1.71,"y":2.25},{"c":14,"x":1.76,"y":2.23},{"c":14,"x":1.8,"y":2.07},{"c":14,"x":1.86,"y":1.91},{"c":14,"x":1.94,"y":1.84},{"c":14,"x":1.91,"y":1.79},{"c":14,"x":1.84,"y":1.8},{"c":14,"x":1.71,"y":1.94},
{"c":15,"x":1.28,"y":1.655},{"c":15,"x":1.345,"y":1.78},{"c":15,"x":1.425,"y":1.76},{"c":15,"x":1.5,"y":1.63},{"c":15,"x":1.605,"y":1.5},{"c":15,"x":1.735,"y":1.42},{"c":15,"x":1.97,"y":1.425},{"c":15,"x":2.12,"y":1.395},{"c":15,"x":2.19,"y":1.34},{"c":15,"x":2.095,"y":1.24},{"c":15,"x":1.81,"y":1.265},{"c":15,"x":1.68,"y":1.225},{"c":15,"x":1.6,"y":1.215},{"c":15,"x":1.515,"y":1.32},{"c":15,"x":1.41,"y":1.435},{"c":15,"x":1.31,"y":1.55},
{"c":16,"x":1.39,"y":1.6},{"c":16,"x":1.435,"y":1.63},{"c":16,"x":1.5,"y":1.55},{"c":16,"x":1.58,"y":1.47},{"c":16,"x":1.66,"y":1.355},{"c":16,"x":1.605,"y":1.33},{"c":16,"x":1.525,"y":1.43},{"c":16,"x":1.425,"y":1.54},
{"c":17,"x":1.385,"y":1.03},{"c":17,"x":1.45,"y":1.05},{"c":17,"x":1.55,"y":1.03},{"c":17,"x":1.655,"y":0.93},{"c":17,"x":1.76,"y":0.85},{"c":17,"x":1.72,"y":0.69},{"c":17,"x":1.67,"y":0.66},{"c":17,"x":1.58,"y":0.72},{"c":17,"x":1.45,"y":0.81},{"c":17,"x":1.345,"y":0.86},{"c":17,"x":1.325,"y":0.94},
{"c":18,"x":0.055,"y":1.15},{"c":18,"x":0.12,"y":1.21},{"c":18,"x":0.22,"y":1.16},{"c":18,"x":0.28,"y":1.045},{"c":18,"x":0.16,"y":1.07},{"c":18,"x":0.08,"y":1.1},
{"c":19,"x":0.29,"y":1},{"c":19,"x":0.31,"y":1.03},{"c":19,"x":0.49,"y":0.95},{"c":19,"x":0.59,"y":0.825},{"c":19,"x":0.53,"y":0.67},{"c":19,"x":0.43,"y":0.575},{"c":19,"x":0.34,"y":0.63},{"c":19,"x":0.3,"y":0.77},
{"c":20,"x":0.385,"y":0.8},{"c":20,"x":0.415,"y":0.87},{"c":20,"x":0.475,"y":0.835},{"c":20,"x":0.48,"y":0.77},{"c":20,"x":0.43,"y":0.705},{"c":20,"x":0.39,"y":0.73},
{"c":21,"x":0.79,"y":0.89},{"c":21,"x":0.81,"y":0.93},{"c":21,"x":0.87,"y":0.86},{"c":21,"x":0.895,"y":0.81},{"c":21,"x":0.855,"y":0.775},{"c":21,"x":0.805,"y":0.82},
{"c":22,"x":1.04,"y":0.33},{"c":22,"x":1.075,"y":0.525},{"c":22,"x":1.14,"y":0.585},{"c":22,"x":1.245,"y":0.565},{"c":22,"x":1.315,"y":0.435},{"c":22,"x":1.245,"y":0.315},{"c":22,"x":1.1,"y":0.28},
{"c":23,"x":0.35,"y":0.265},{"c":23,"x":0.43,"y":0.38},{"c":23,"x":0.51,"y":0.37},{"c":23,"x":0.595,"y":0.25},{"c":23,"x":0.545,"y":0.16},{"c":23,"x":0.455,"y":0.145},{"c":23,"x":0.39,"y":0.19},
{"c":24,"x":0,"y":0.37},{"c":24,"x":0.02,"y":0.3},{"c":24,"x":0,"y":0.25},{"c":24,"x":-0.03,"y":0.31},
{"c":25,"x":1.9,"y":0.395},{"c":25,"x":1.97,"y":0.455},{"c":25,"x":2.07,"y":0.455},{"c":25,"x":2.08,"y":0.355},{"c":25,"x":2.04,"y":0.257},{"c":25,"x":1.98,"y":0.29},{"c":25,"x":1.915,"y":0.34},
{"c":26,"x":2.2,"y":0.93},{"c":26,"x":2.24,"y":0.965},{"c":26,"x":2.355,"y":0.94},{"c":26,"x":2.36,"y":0.89},{"c":26,"x":2.29,"y":0.86},{"c":26,"x":2.21,"y":0.9},
{"c":27,"x":2.06,"y":0.12},{"c":27,"x":2.09,"y":0.155},{"c":27,"x":2.2,"y":0.095},{"c":27,"x":2.28,"y":0},{"c":27,"x":2.28,"y":-0.05},{"c":27,"x":2.1,"y":-0.05},{"c":27,"x":2.07,"y":0.03},
{"c":28,"x":2.53,"y":0.02},{"c":28,"x":2.57,"y":0.05},{"c":28,"x":2.645,"y":0.005},{"c":28,"x":2.57,"y":-0.05},
{"c":29,"x":3,"y":0.54},{"c":29,"x":2.98,"y":0.485},{"c":29,"x":3,"y":0.445},{"c":29,"x":3.05,"y":0.49}
],
"b_r":[
{"c":1,"x":0.55,"y":3},{"c":1,"x":0.585,"y":2.98},{"c":1,"x":0.62,"y":3},{"c":1,"x":0.585,"y":3.04},
{"c":2,"x":0.16,"y":2.4},{"c":2,"x":0.17,"y":2.62},{"c":2,"x":0.235,"y":2.71},{"c":2,"x":0.39,"y":2.71},{"c":2,"x":0.47,"y":2.62},{"c":2,"x":0.415,"y":2.51},{"c":2,"x":0.29,"y":2.41},{"c":2,"x":0.21,"y":2.37},
{"c":3,"x":0.85,"y":2.64},{"c":3,"x":0.92,"y":2.72},{"c":3,"x":1.03,"y":2.72},{"c":3,"x":1.01,"y":2.61},{"c":3,"x":0.96,"y":2.5},{"c":3,"x":0.895,"y":2.55},
{"c":4,"x":0.96,"y":2.46},{"c":4,"x":1.05,"y":2.37},{"c":4,"x":1.13,"y":2.25},{"c":4,"x":1.06,"y":2.17},{"c":4,"x":0.93,"y":2.15},{"c":4,"x":0.855,"y":2.21},{"c":4,"x":0.87,"y":2.33},
{"c":5,"x":0.99,"y":2.3},{"c":5,"x":1.015,"y":2.28},{"c":5,"x":0.995,"y":2.25},
{"c":6,"x":1.37,"y":2.71},{"c":6,"x":1.42,"y":2.71},{"c":6,"x":1.455,"y":2.64},{"c":6,"x":1.41,"y":2.62},{"c":6,"x":1.37,"y":2.67},
{"c":7,"x":1.36,"y":2.25},{"c":7,"x":1.42,"y":2.355},{"c":7,"x":1.51,"y":2.37},{"c":7,"x":1.53,"y":2.28},{"c":7,"x":1.49,"y":2.16},{"c":7,"x":1.42,"y":2.16},{"c":7,"x":1.38,"y":2.2},
{"c":8,"x":0.52,"y":1.82},{"c":8,"x":0.61,"y":1.89},{"c":8,"x":0.7,"y":1.875},{"c":8,"x":0.74,"y":1.81},{"c":8,"x":0.69,"y":1.745},{"c":8,"x":0.57,"y":1.745},
{"c":9,"x":0.17,"y":1.41},{"c":9,"x":0.235,"y":1.47},{"c":9,"x":0.39,"y":1.45},{"c":9,"x":0.6,"y":1.225},{"c":9,"x":0.585,"y":1.11},{"c":9,"x":0.48,"y":1.1},{"c":9,"x":0.325,"y":1.19},{"c":9,"x":0.21,"y":1.32},
{"c":10,"x":0.325,"y":1.33},{"c":10,"x":0.375,"y":1.37},{"c":10,"x":0.505,"y":1.24},{"c":10,"x":0.48,"y":1.19},{"c":10,"x":0.405,"y":1.2},
{"c":11,"x":1.22,"y":1.28},{"c":11,"x":1.31,"y":1.38},{"c":11,"x":1.4,"y":1.32},{"c":11,"x":1.41,"y":1.21},{"c":11,"x":1.33,"y":1.15},{"c":11,"x":1.255,"y":1.19},
{"c":12,"x":0.62,"y":0.51},{"c":12,"x":0.7,"y":0.6},{"c":12,"x":0.8,"y":0.575},{"c":12,"x":0.825,"y":0.485},{"c":12,"x":0.75,"y":0.42},{"c":12,"x":0.66,"y":0.46},
{"c":13,"x":0.08,"y":0.055},{"c":13,"x":0.095,"y":0.15},{"c":13,"x":0.185,"y":0.2},{"c":13,"x":0.285,"y":0.135},{"c":13,"x":0.34,"y":0.03},{"c":13,"x":0.2,"y":-0.05},
{"c":14,"x":0.57,"y":0.02},{"c":14,"x":0.7,"y":0.075},{"c":14,"x":0.79,"y":0.03},{"c":14,"x":0.7,"y":-0.05},
{"c":15,"x":1.36,"y":0.095},{"c":15,"x":1.4,"y":0.2},{"c":15,"x":1.5,"y":0.24},{"c":15,"x":1.53,"y":0.2},{"c":15,"x":1.49,"y":0.07},{"c":15,"x":1.45,"y":0.02},{"c":15,"x":1.37,"y":0.045},
{"c":16,"x":2.16,"y":2.95},{"c":16,"x":2.225,"y":2.88},{"c":16,"x":2.33,"y":2.89},{"c":16,"x":2.39,"y":2.99},{"c":16,"x":2.3,"y":3.05},
{"c":17,"x":2.225,"y":2.52},{"c":17,"x":2.34,"y":2.62},{"c":17,"x":2.485,"y":2.54},{"c":17,"x":2.485,"y":2.43},{"c":17,"x":2.41,"y":2.36},{"c":17,"x":2.28,"y":2.41},
{"c":18,"x":2.3,"y":2.52},{"c":18,"x":2.355,"y":2.55},{"c":18,"x":2.41,"y":2.5},{"c":18,"x":2.38,"y":2.43},{"c":18,"x":2.315,"y":2.46},
{"c":19,"x":1.915,"y":2.11},{"c":19,"x":1.99,"y":2.2},{"c":19,"x":2.08,"y":2.08},{"c":19,"x":2.07,"y":2.02},{"c":19,"x":1.97,"y":2.02},
{"c":20,"x":2.37,"y":2.06},{"c":20,"x":2.43,"y":2.11},{"c":20,"x":2.5,"y":2.02},{"c":20,"x":2.46,"y":1.94},{"c":20,"x":2.38,"y":1.99},
{"c":21,"x":2.445,"y":1.73},{"c":21,"x":2.51,"y":1.8},{"c":21,"x":2.64,"y":1.68},{"c":21,"x":2.61,"y":1.615},{"c":21,"x":2.51,"y":1.63},
{"c":22,"x":1.94,"y":1.59},{"c":22,"x":2.03,"y":1.69},{"c":22,"x":2.2,"y":1.71},{"c":22,"x":2.29,"y":1.63},{"c":22,"x":2.25,"y":1.55},{"c":22,"x":2.12,"y":1.52},{"c":22,"x":1.99,"y":1.55},
{"c":23,"x":2.85,"y":1.5},{"c":23,"x":2.86,"y":1.58},{"c":23,"x":2.98,"y":1.63},{"c":23,"x":3.05,"y":1.5},{"c":23,"x":2.97,"y":1.39},{"c":23,"x":2.94,"y":1.38},{"c":23,"x":2.87,"y":1.47},
{"c":25,"x":2.42,"y":1.19},{"c":25,"x":2.485,"y":1.25},{"c":25,"x":2.59,"y":1.265},{"c":25,"x":2.7,"y":1.2},{"c":25,"x":2.665,"y":1.095},{"c":25,"x":2.59,"y":1.06},{"c":25,"x":2.5,"y":1.08},
{"c":26,"x":2.95,"y":0.9},{"c":26,"x":2.975,"y":0.94},{"c":26,"x":3,"y":0.85},{"c":26,"x":2.97,"y":0.85},
{"c":27,"x":1.91,"y":0.67},{"c":27,"x":1.99,"y":0.74},{"c":27,"x":2.04,"y":0.71},{"c":27,"x":2.06,"y":0.67},{"c":27,"x":1.98,"y":0.615},
{"c":28,"x":2.19,"y":0.305},{"c":28,"x":2.25,"y":0.435},{"c":28,"x":2.355,"y":0.45},{"c":28,"x":2.445,"y":0.355},{"c":28,"x":2.42,"y":0.225},{"c":28,"x":2.34,"y":0.16},{"c":28,"x":2.225,"y":0.24},
{"c":29,"x":2.265,"y":0.315},{"c":29,"x":2.315,"y":0.37},{"c":29,"x":2.37,"y":0.315},{"c":29,"x":2.34,"y":0.25},{"c":29,"x":2.28,"y":0.25},
{"c":30,"x":2.68,"y":0.2},{"c":30,"x":2.72,"y":0.33},{"c":30,"x":2.79,"y":0.34},{"c":30,"x":2.935,"y":0.19},{"c":30,"x":2.88,"y":0.07},{"c":30,"x":2.77,"y":0.03},
{"c":31,"x":2.77,"y":0.19},{"c":31,"x":2.81,"y":0.205},{"c":31,"x":2.88,"y":0.12},{"c":31,"x":2.82,"y":0.095}
],
"b_g":[
{"c":1,"x":0.43,"y":3},{"c":1,"x":0.47,"y":2.89},{"c":1,"x":0.57,"y":2.89},{"c":1,"x":0.675,"y":2.97},{"c":1,"x":0.7,"y":3},
{"c":2,"x":0.015,"y":2.41},{"c":2,"x":0.095,"y":2.54},{"c":2,"x":0.095,"y":2.77},{"c":2,"x":0.235,"y":2.81},{"c":2,"x":0.455,"y":2.83},{"c":2,"x":0.585,"y":2.67},{"c":2,"x":0.57,"y":2.55},{"c":2,"x":0.365,"y":2.34},{"c":2,"x":0.235,"y":2.2},{"c":2,"x":0.13,"y":2.16},{"c":2,"x":0.03,"y":2.17},
{"c":3,"x":1.115,"y":2.99},{"c":3,"x":1.19,"y":2.97},{"c":3,"x":1.255,"y":2.99},
{"c":4,"x":1.45,"y":1.84},{"c":4,"x":1.42,"y":1.99},{"c":4,"x":1.35,"y":2.11},{"c":4,"x":1.2,"y":2.16},{"c":4,"x":0.93,"y":2.08},{"c":4,"x":0.73,"y":2.12},{"c":4,"x":0.74,"y":2.2},{"c":4,"x":0.79,"y":2.33},{"c":4,"x":0.83,"y":2.49},{"c":4,"x":0.74,"y":2.67},{"c":4,"x":0.8,"y":2.745},{"c":4,"x":1.01,"y":2.82},{"c":4,"x":1.165,"y":2.77},{"c":4,"x":1.295,"y":2.8},{"c":4,"x":1.45,"y":2.77},{"c":4,"x":1.53,"y":2.69},{"c":4,"x":1.58,"y":2.44},{"c":4,"x":1.605,"y":2.2},{"c":4,"x":1.54,"y":2.02},{"c":4,"x":1.605,"y":1.86},
{"c":5,"x":1.06,"y":2.52},{"c":5,"x":1.18,"y":2.68},{"c":5,"x":1.295,"y":2.62},{"c":5,"x":1.385,"y":2.49},{"c":5,"x":1.31,"y":2.33},{"c":5,"x":1.2,"y":2.31},{"c":5,"x":1.09,"y":2.4},{"c":5,"x":1.06,"y":2.52},
{"c":6,"x":0.03,"y":1.97},{"c":6,"x":0.16,"y":1.94},{"c":6,"x":0.235,"y":1.85},{"c":6,"x":0.16,"y":1.71},{"c":6,"x":0.03,"y":1.68},
{"c":7,"x":0.79,"y":1.39},{"c":7,"x":0.82,"y":1.55},{"c":7,"x":0.78,"y":1.66},{"c":7,"x":0.415,"y":1.69},{"c":7,"x":0.35,"y":1.76},{"c":7,"x":0.39,"y":1.89},{"c":7,"x":0.66,"y":2.03},{"c":7,"x":0.78,"y":1.93},{"c":7,"x":0.91,"y":1.84},{"c":7,"x":1.11,"y":1.85},{"c":7,"x":1.22,"y":1.76},{"c":7,"x":1.2,"y":1.58},{"c":7,"x":1.32,"y":1.49},
{"c":71,"x":0.79,"y":1.39},{"c":71,"x":0.78,"y":1.265},{"c":71,"x":0.87,"y":1.23},{"c":71,"x":1.11,"y":1.45},{"c":71,"x":1.14,"y":1.16},{"c":71,"x":1,"y":1.005},{"c":71,"x":0.985,"y":0.9},{"c":71,"x":1.06,"y":0.745},{"c":71,"x":1.27,"y":0.67},{"c":71,"x":1.45,"y":0.565},{"c":71,"x":1.53,"y":0.435},
{"c":8,"x":0,"y":1.5},{"c":8,"x":0.16,"y":1.63},{"c":8,"x":0.415,"y":1.46},{"c":8,"x":0.6,"y":1.34},{"c":8,"x":0.69,"y":1.21},{"c":8,"x":0.65,"y":1.03},{"c":8,"x":0.545,"y":1.02},{"c":8,"x":0.34,"y":1.13},{"c":8,"x":0.16,"y":1.28},{"c":8,"x":0.015,"y":1.33},
{"c":9,"x":0.015,"y":0.99},{"c":9,"x":0.16,"y":0.98},{"c":9,"x":0.235,"y":0.91},{"c":9,"x":0.23,"y":0.69},{"c":9,"x":0.31,"y":0.47},{"c":9,"x":0.275,"y":0.355},{"c":9,"x":0.31,"y":0.15},{"c":9,"x":0.39,"y":0.095},{"c":9,"x":0.47,"y":0.06},{"c":9,"x":0.675,"y":0.17},{"c":9,"x":0.79,"y":0.15},{"c":9,"x":0.93,"y":0.03},
{"c":10,"x":0.015,"y":0.77},{"c":10,"x":0.08,"y":0.67},{"c":10,"x":0.105,"y":0.33},{"c":10,"x":0.015,"y":0.135},
{"c":11,"x":0.52,"y":0.51},{"c":11,"x":0.675,"y":0.715},{"c":11,"x":0.78,"y":0.695},{"c":11,"x":0.93,"y":0.565},{"c":11,"x":0.945,"y":0.46},{"c":11,"x":0.78,"y":0.33},{"c":11,"x":0.65,"y":0.37},{"c":11,"x":0.52,"y":0.51},
{"c":12,"x":1.24,"y":0.02},{"c":12,"x":1.24,"y":0.2},{"c":12,"x":1.345,"y":0.33},{"c":12,"x":1.49,"y":0.435},
{"c":13,"x":1.45,"y":0.69},{"c":13,"x":1.53,"y":0.615},{"c":13,"x":1.54,"y":0.46},{"c":13,"x":1.735,"y":0.33},{"c":13,"x":1.89,"y":0.225},{"c":13,"x":1.965,"y":0.045},
{"c":14,"x":1.58,"y":0.02},{"c":14,"x":1.68,"y":0.1},{"c":14,"x":1.79,"y":0.005},
{"c":15,"x":1.66,"y":1.08},{"c":15,"x":1.71,"y":1.15},{"c":15,"x":1.86,"y":1.175},{"c":15,"x":1.94,"y":1.11},{"c":15,"x":1.89,"y":1.02},{"c":15,"x":1.79,"y":0.985},{"c":15,"x":1.695,"y":1.005},{"c":15,"x":1.66,"y":1.08},
{"c":16,"x":1.81,"y":0.67},{"c":16,"x":1.875,"y":0.78},{"c":16,"x":2.07,"y":0.82},{"c":16,"x":2.19,"y":0.755},{"c":16,"x":2.13,"y":0.59},{"c":16,"x":2,"y":0.54},{"c":16,"x":1.875,"y":0.55},{"c":16,"x":1.81,"y":0.67},
{"c":17,"x":1.395,"y":2.07},{"c":17,"x":1.45,"y":1.85},{"c":17,"x":1.5,"y":1.76},{"c":17,"x":1.6,"y":1.64},{"c":17,"x":1.72,"y":1.52},{"c":17,"x":1.84,"y":1.47},{"c":17,"x":2.08,"y":1.46},{"c":17,"x":2.25,"y":1.5},{"c":17,"x":2.38,"y":1.53},{"c":17,"x":2.59,"y":1.52},{"c":17,"x":2.74,"y":1.47},{"c":17,"x":2.77,"y":1.4},
{"c":18,"x":3,"y":1.32},{"c":18,"x":2.85,"y":1.187},{"c":18,"x":2.77,"y":1.04},{"c":18,"x":2.61,"y":0.98},{"c":18,"x":2.485,"y":0.98},{"c":18,"x":2.33,"y":1.03},{"c":18,"x":2.19,"y":1.15},{"c":18,"x":2.33,"y":1.28},{"c":18,"x":2.535,"y":1.35},{"c":18,"x":2.69,"y":1.345},{"c":18,"x":2.8,"y":1.27},
{"c":19,"x":3,"y":1.055},{"c":19,"x":2.87,"y":1.055},{"c":19,"x":2.8,"y":0.85},{"c":19,"x":2.68,"y":0.69},{"c":19,"x":2.68,"y":0.54},{"c":19,"x":2.66,"y":0.43},{"c":19,"x":2.59,"y":0.33},{"c":19,"x":2.52,"y":0.355},
{"c":191,"x":2.135,"y":0.33},{"c":191,"x":2.19,"y":0.485},{"c":191,"x":2.29,"y":0.54},{"c":191,"x":2.42,"y":0.46},{"c":191,"x":2.52,"y":0.355},{"c":191,"x":2.51,"y":0.2},{"c":191,"x":2.43,"y":0.12},{"c":191,"x":2.28,"y":0.12},{"c":191,"x":2.175,"y":0.2},{"c":191,"x":2.135,"y":0.33},
{"c":192,"x":2.51,"y":0.2},{"c":192,"x":2.59,"y":0.17},{"c":192,"x":2.72,"y":0.03},
{"c":20,"x":2.98,"y":0.72},{"c":20,"x":2.88,"y":0.69},{"c":20,"x":2.85,"y":0.56},{"c":20,"x":2.86,"y":0.43},{"c":20,"x":2.97,"y":0.36},
{"c":21,"x":1.605,"y":2.98},{"c":21,"x":1.73,"y":2.85},{"c":21,"x":1.84,"y":2.79},{"c":21,"x":1.92,"y":2.93},{"c":21,"x":1.93,"y":2.99},
{"c":22,"x":2.07,"y":2.99},{"c":22,"x":2.1,"y":2.88},{"c":22,"x":2.28,"y":2.78},{"c":22,"x":2.46,"y":2.89},{"c":22,"x":2.51,"y":2.92},{"c":22,"x":2.66,"y":2.82},{"c":22,"x":2.77,"y":2.59},{"c":22,"x":2.81,"y":2.33},{"c":22,"x":2.78,"y":2.15},{"c":22,"x":2.84,"y":2.04},{"c":22,"x":2.97,"y":2.02},
{"c":23,"x":2.83,"y":2.98},{"c":23,"x":2.87,"y":2.8},{"c":23,"x":2.96,"y":2.69},
{"c":24,"x":2.97,"y":2.43},{"c":24,"x":2.97,"y":2.34},
{"c":25,"x":2.1,"y":2.51},{"c":25,"x":2.225,"y":2.65},{"c":25,"x":2.33,"y":2.69},{"c":25,"x":2.485,"y":2.64},{"c":25,"x":2.56,"y":2.51},{"c":25,"x":2.48,"y":2.36},{"c":25,"x":2.44,"y":2.23},{"c":25,"x":2.48,"y":2.07},{"c":25,"x":2.56,"y":1.89},{"c":25,"x":2.61,"y":1.78},{"c":25,"x":2.74,"y":1.72},{"c":25,"x":2.9,"y":1.69},{"c":25,"x":2.99,"y":1.72},
{"c":26,"x":2.03,"y":2.36},{"c":26,"x":1.98,"y":2.49},{"c":26,"x":1.88,"y":2.56},{"c":26,"x":1.825,"y":2.49},{"c":26,"x":1.825,"y":2.36},{"c":26,"x":1.85,"y":2.2},{"c":26,"x":1.875,"y":1.99},{"c":26,"x":1.99,"y":1.93},{"c":26,"x":2.19,"y":1.99},{"c":26,"x":2.34,"y":1.84},{"c":26,"x":2.34,"y":1.8},{"c":26,"x":2.225,"y":1.77},{"c":26,"x":2.095,"y":1.8},{"c":26,"x":1.98,"y":1.73},{"c":26,"x":1.915,"y":1.69},{"c":26,"x":1.76,"y":1.81},{"c":26,"x":1.605,"y":1.86},
{"c":27,"x":2.1,"y":2.21},{"c":27,"x":2.2,"y":2.12},{"c":27,"x":2.27,"y":2.12},{"c":27,"x":2.36,"y":2.23},{"c":27,"x":2.44,"y":2.23},
{"c":29,"x":1.18,"y":1.5},{"c":29,"x":1.32,"y":1.45},{"c":29,"x":1.45,"y":1.34},{"c":29,"x":1.475,"y":1.21},{"c":29,"x":1.385,"y":1.12},{"c":29,"x":1.245,"y":1.03},{"c":29,"x":1.23,"y":0.93},{"c":29,"x":1.24,"y":0.85},{"c":29,"x":1.335,"y":0.76},{"c":29,"x":1.45,"y":0.69},{"c":29,"x":1.53,"y":0.615}
]
},
"vconcat":[
{"width":387,"height":385,
"encoding":{"x":{"field":"x","type":"quantitative","scale":{"domain":[0,3],"nice":false},"axis":{"title":"(a)","titleFont":"Liberation Serif","titleFontStyle":"italic","titleFontWeight":"normal","titleFontSize":19,"titleColor":"#222","titlePadding":2}},"y":{"field":"y","type":"quantitative","scale":{"domain":[0,3],"nice":false},"axis":{"title":null}}},
"layer":[
{"data":{"name":"a_r"},"mark":{"type":"line","interpolate":"cardinal-closed","clip":true,"order":null,"stroke":"#e8606e","strokeWidth":1.1,"strokeDash":[5,3]},"encoding":{"detail":{"field":"c"}}},
{"data":{"name":"a_g"},"mark":{"type":"line","interpolate":"cardinal","clip":true,"order":null,"stroke":"#b5b85c","strokeWidth":1.2,"strokeDash":[5,4]},"encoding":{"detail":{"field":"c"}}},
{"data":{"name":"a_b"},"mark":{"type":"line","interpolate":"cardinal-closed","clip":true,"order":null,"stroke":"#545cae","strokeWidth":1.2},"encoding":{"detail":{"field":"c"}}},
{"data":{"values":[{"x":2.03,"y":2.28},{"x":1.5,"y":1.5},{"x":2.09,"y":0.75}]},"mark":{"type":"line","order":null,"stroke":"#111","strokeWidth":2}},
{"data":{"values":[{"x":2.03,"y":2.28,"k":"H"},{"x":2.09,"y":0.75,"k":"H"},{"x":1.5,"y":1.5,"k":"O"}]},"mark":{"type":"point","filled":true,"size":125,"stroke":"#111","strokeWidth":1.8,"opacity":1},"encoding":{"fill":{"field":"k","scale":{"domain":["H","O"],"range":["white","#ee1c25"]},"legend":null}}},
{"data":{"values":[{"x":2.09,"y":2.38,"t":"H10"},{"x":1.59,"y":1.49,"t":"O10"},{"x":2.12,"y":0.62,"t":"H11"}]},"mark":{"type":"text","align":"left","baseline":"middle","font":"DejaVu Serif","fontWeight":"bold","fontSize":16,"color":"#222"},"encoding":{"text":{"field":"t"}}}
]},
{"width":387,"height":385,
"encoding":{"x":{"field":"x","type":"quantitative","scale":{"domain":[0,3],"nice":false},"axis":{"title":"(b)","titleFont":"Liberation Serif","titleFontStyle":"italic","titleFontWeight":"normal","titleFontSize":19,"titleColor":"#222","titlePadding":2}},"y":{"field":"y","type":"quantitative","scale":{"domain":[0,3],"nice":false},"axis":{"title":null}}},
"layer":[
{"data":{"name":"b_r"},"mark":{"type":"line","interpolate":"cardinal-closed","clip":true,"order":null,"stroke":"#e8606e","strokeWidth":1.1,"strokeDash":[5,3]},"encoding":{"detail":{"field":"c"}}},
{"data":{"name":"b_g"},"mark":{"type":"line","interpolate":"cardinal","clip":true,"order":null,"stroke":"#b5b85c","strokeWidth":1.2,"strokeDash":[5,4]},"encoding":{"detail":{"field":"c"}}},
{"data":{"name":"b_b"},"mark":{"type":"line","interpolate":"cardinal-closed","clip":true,"order":null,"stroke":"#545cae","strokeWidth":1.2},"encoding":{"detail":{"field":"c"}}},
{"data":{"values":[{"x":2.03,"y":2.28},{"x":1.5,"y":1.5},{"x":2.08,"y":0.75}]},"mark":{"type":"line","order":null,"stroke":"#111","strokeWidth":2}},
{"data":{"values":[{"x":2.03,"y":2.28,"k":"H"},{"x":2.08,"y":0.75,"k":"H"},{"x":1.5,"y":1.5,"k":"O"}]},"mark":{"type":"point","filled":true,"size":125,"stroke":"#111","strokeWidth":1.8,"opacity":1},"encoding":{"fill":{"field":"k","scale":{"domain":["H","O"],"range":["white","#ee1c25"]},"legend":null}}},
{"data":{"values":[{"x":2.09,"y":2.385,"t":"H10"},{"x":1.59,"y":1.505,"t":"O10"},{"x":2.12,"y":0.63,"t":"H11"}]},"mark":{"type":"text","align":"left","baseline":"middle","font":"DejaVu Serif","fontWeight":"bold","fontSize":16,"color":"#222"},"encoding":{"text":{"field":"t"}}}
]}
]}
